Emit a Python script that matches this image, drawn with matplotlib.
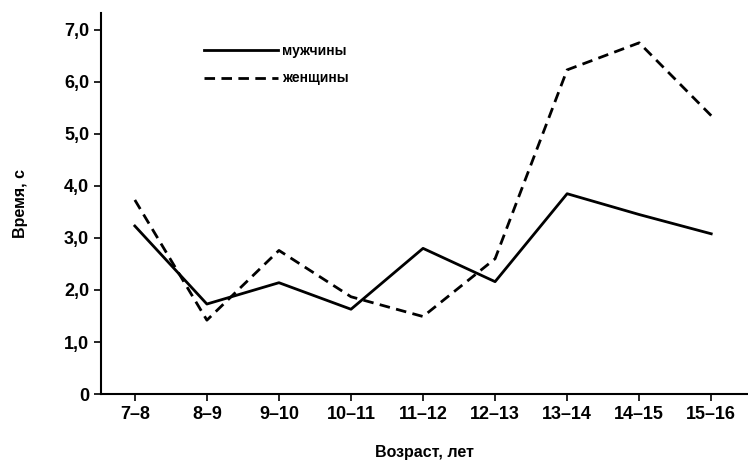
from matplotlib import pyplot as plt

ages = ['7\u20138', '8\u20139', '9\u201310', '10\u201311', '11\u201312', '12\u201313', '13\u201314', '14\u201315', '15\u201316']
men = [3.23, 1.73, 2.14, 1.63, 2.8, 2.16, 3.85, 3.45, 3.08]
women = [3.73, 1.42, 2.76, 1.87, 1.49, 2.6, 6.23, 6.75, 5.35]
yticks = [0, 1, 2, 3, 4, 5, 6, 7]
ytick_labels = ['0', '1,0', '2,0', '3,0', '4,0', '5,0', '6,0', '7,0']

plt.rcParams['font.family'] = ['Liberation Sans', 'DejaVu Sans']
plt.rcParams['font.weight'] = 'bold'

fig = plt.figure(figsize=(7.48, 4.68), dpi=100)
ax = fig.add_axes([0.135, 0.158, 0.864, 0.815])

x = list(range(len(ages)))
ax.plot(x, men, color='black', linewidth=2.0, label='мужчины')
ax.plot(x, women, color='black', linewidth=2.0, linestyle=(0, (3.8, 2.3)), label='женщины')

ax.set_xlim(-0.47, 8.5)
ax.set_ylim(0, 7.33)
ax.set_xticks(x)
ax.set_xticklabels(ages, fontsize=13)
ax.set_yticks(yticks)
ax.set_yticklabels(ytick_labels, fontsize=13)
ax.tick_params(direction='out', length=5, width=1.2)

for side in ['top', 'right']:
    ax.spines[side].set_visible(False)
for side in ['left', 'bottom']:
    ax.spines[side].set_linewidth(1.5)

ax.set_xlabel('Возраст, лет', fontsize=11.5, fontweight='bold', labelpad=16)
ax.set_ylabel('Время, с', fontsize=11.5, fontweight='bold', labelpad=26)

ax.legend(loc='upper left', bbox_to_anchor=(0.14, 0.95), frameon=False,
          fontsize=10, handlelength=5.3, handletextpad=0.3, labelspacing=0.95)

fig.savefig('out.png', dpi=100)
